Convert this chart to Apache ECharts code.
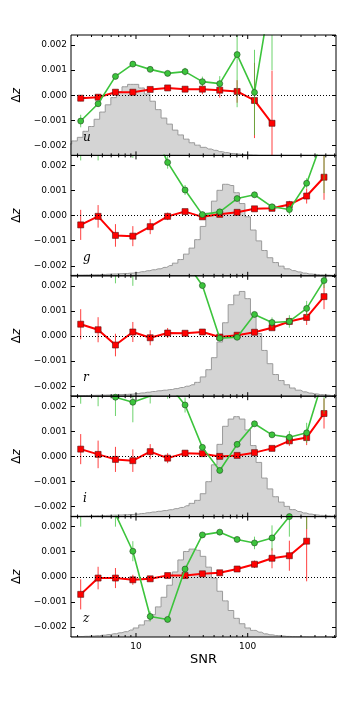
<!DOCTYPE html>
<html>
<head>
<meta charset="utf-8">
<script src="https://cdn.jsdelivr.net/npm/echarts@6/dist/echarts.min.js"></script>
<style>
  html, body { margin: 0; padding: 0; background: #fff; }
  #chart { width: 354px; height: 708px; }
</style>
</head>
<body>
<div id="chart"></div>
<script>
// SNR bin centres of the binned points (shared by all bands)
const snr = [3.2, 4.58, 6.55, 9.37, 13.4, 19.2, 27.5, 39.3, 56.2, 80.4, 115, 165, 236, 337, 482];
const bands = ['u', 'g', 'r', 'i', 'z'];

// red squares + error bars
const redU = [-0.00012, -0.00008, 0.00012, 0.00012, 0.00023, 0.00029, 0.00024, 0.00024, 0.00020, 0.00015, -0.00021, -0.00112];
const redUErr = [0.00012, 0.0001, 0.0001, 0.0001, 0.0001, 0.0001, 0.00012, 0.0002, 0.0003, 0.00045, 0.0015, 0.0021];
const redG = [-0.00037, -0.00003, -0.00079, -0.00082, -0.00044, -0.00003, 0.00016, -0.00005, 0.00005, 0.00013, 0.00027, 0.00029, 0.00044, 0.00078, 0.00153];
const redGErr = [0.0006, 0.00045, 0.00045, 0.0004, 0.0003, 0.00015, 0.0001, 0.00006, 0.00005, 0.00005, 0.00006, 0.00008, 0.00015, 0.0003, 0.0009];
const redR = [0.00047, 0.00025, -0.00036, 0.00016, -0.00007, 0.00012, 0.00011, 0.00016, -0.00004, 0.00003, 0.00015, 0.00033, 0.00058, 0.00074, 0.00157];
const redRErr = [0.0006, 0.0005, 0.00045, 0.0004, 0.0003, 0.0002, 0.0001, 0.0001, 0.00006, 0.00005, 0.00005, 0.00008, 0.00015, 0.0003, 0.0005];
const redI = [0.00029, 0.00008, -0.00012, -0.00017, 0.00019, -0.00007, 0.00013, 0.00011, 0.0, 0.00004, 0.00015, 0.00032, 0.00062, 0.00075, 0.00171];
const redIErr = [0.0006, 0.00055, 0.0005, 0.00045, 0.0003, 0.0002, 0.00012, 0.0001, 0.00006, 0.00005, 0.00005, 0.00008, 0.0002, 0.0003, 0.0006];
const redZ = [-0.0007, -0.00005, -0.00005, -0.00012, -0.00008, 0.00005, 0.00005, 0.00012, 0.00016, 0.00031, 0.0005, 0.00074, 0.00084, 0.00142];
const redZErr = [0.0006, 0.00045, 0.0004, 0.0002, 0.0001, 0.00008, 0.00006, 0.00005, 0.00006, 0.00008, 0.00015, 0.0004, 0.0006, 0.0016];

// green circles + error bars
const greenU = [-0.00103, -0.00034, 0.00075, 0.00124, 0.00103, 0.00087, 0.00094, 0.00054, 0.00046, 0.00162, 0.00011, 0.0043];
const greenUErr = [0.00025, 0.0001, 0.0001, 0.0001, 0.0001, 0.0001, 0.00015, 0.0002, 0.0003, 0.0021, 0.0017, 0.0033];
const greenG = [0.0032, 0.0031, 0.0035, 0.0033, 0.0037, 0.00212, 0.00102, 0.00004, 0.00015, 0.00068, 0.00083, 0.00035, 0.00024, 0.00129, 0.0032];
const greenGErr = [0.001, 0.0009, 0.0005, 0.001, 0.0004, 0.00025, 0.0002, 0.00005, 0.00005, 0.00008, 0.0001, 0.0001, 0.0002, 0.0002, 0.0023];
const greenR = [0.0035, 0.0034, 0.0029, 0.0030, 0.0031, 0.0032, 0.0030, 0.00201, -0.00009, -0.00005, 0.00086, 0.00054, 0.00058, 0.0011, 0.00221];
const greenRErr = [0.0005, 0.0005, 0.0008, 0.001, 0.0007, 0.0003, 0.0003, 0.0001, 0.00005, 0.00005, 0.0001, 0.0002, 0.00025, 0.0003, 0.0003];
const greenI = [0.0029, 0.0027, 0.00236, 0.00216, 0.00241, 0.0029, 0.00205, 0.00036, -0.00056, 0.00048, 0.0013, 0.00086, 0.00076, 0.00094, 0.0032];
const greenIErr = [0.0008, 0.0007, 0.00075, 0.0008, 0.0003, 0.0006, 0.0003, 0.0001, 0.0001, 0.0001, 0.0001, 0.0001, 0.00025, 0.0004, 0.0015];
const greenZ = [0.0030, 0.0035, 0.0025, 0.00102, -0.00158, -0.0017, 0.00031, 0.00167, 0.00178, 0.00149, 0.00135, 0.00155, 0.0024, 0.0031];
const greenZErr = [0.001, 0.0005, 0.0005, 0.0004, 0.0002, 0.0001, 0.0001, 0.0001, 0.0001, 0.0001, 0.00025, 0.0005, 0.0008, 0.0012];

// background SNR histograms (fraction of panel height)
const histSnr = [2.51, 2.82, 3.16, 3.55, 3.98, 4.47, 5.01, 5.62, 6.31, 7.08, 7.94, 8.91, 10, 11.2, 12.6, 14.1, 15.8, 17.8, 20.0, 22.4, 25.1, 28.2, 31.6, 35.5, 39.8, 44.7, 50.1, 56.2, 63.1, 70.8, 79.4, 89.1, 100, 112, 126, 141, 158, 178, 200, 224, 251, 282, 316, 355, 398, 447, 501, 562, 631];
const histU = [0.095, 0.12, 0.15, 0.20, 0.24, 0.30, 0.36, 0.42, 0.48, 0.53, 0.57, 0.59, 0.59, 0.56, 0.51, 0.45, 0.38, 0.31, 0.26, 0.21, 0.17, 0.135, 0.105, 0.085, 0.067, 0.053, 0.042, 0.031, 0.023, 0.016, 0.011, 0.007, 0.004, 0.002, 0, 0, 0, 0, 0, 0, 0, 0, 0, 0, 0, 0, 0, 0, 0];
const histG = [0.004, 0.005, 0.006, 0.007, 0.008, 0.009, 0.011, 0.013, 0.015, 0.017, 0.019, 0.022, 0.027, 0.034, 0.042, 0.050, 0.058, 0.070, 0.085, 0.105, 0.135, 0.18, 0.23, 0.30, 0.41, 0.52, 0.62, 0.71, 0.76, 0.75, 0.69, 0.60, 0.49, 0.38, 0.29, 0.21, 0.15, 0.11, 0.08, 0.058, 0.043, 0.032, 0.022, 0.015, 0.011, 0.008, 0.006, 0.004, 0.003];
const histR = [0.003, 0.004, 0.005, 0.006, 0.007, 0.008, 0.009, 0.010, 0.012, 0.013, 0.015, 0.017, 0.022, 0.027, 0.033, 0.039, 0.045, 0.050, 0.055, 0.063, 0.072, 0.083, 0.095, 0.115, 0.16, 0.22, 0.32, 0.45, 0.61, 0.76, 0.84, 0.87, 0.81, 0.68, 0.52, 0.38, 0.27, 0.18, 0.13, 0.095, 0.068, 0.05, 0.036, 0.026, 0.019, 0.013, 0.009, 0.006, 0.004];
const histI = [0.003, 0.004, 0.005, 0.006, 0.007, 0.008, 0.009, 0.010, 0.012, 0.013, 0.015, 0.017, 0.021, 0.026, 0.032, 0.038, 0.044, 0.050, 0.057, 0.066, 0.076, 0.09, 0.11, 0.135, 0.19, 0.29, 0.43, 0.60, 0.75, 0.81, 0.83, 0.81, 0.72, 0.59, 0.45, 0.32, 0.23, 0.165, 0.12, 0.085, 0.058, 0.042, 0.03, 0.021, 0.014, 0.01, 0.007, 0.005, 0.003];
const histZ = [0.002, 0.003, 0.004, 0.006, 0.008, 0.011, 0.015, 0.020, 0.027, 0.035, 0.044, 0.058, 0.075, 0.10, 0.135, 0.185, 0.25, 0.33, 0.43, 0.54, 0.64, 0.71, 0.73, 0.72, 0.67, 0.58, 0.49, 0.38, 0.30, 0.22, 0.155, 0.11, 0.075, 0.055, 0.04, 0.026, 0.018, 0.012, 0.008, 0.005, 0.003, 0.002, 0.001, 0, 0, 0, 0, 0, 0];

// x tick positions (major = decades)
const xMajorTicks = [10, 100];
const xMinorTicks = [3, 4, 5, 6, 7, 8, 9, 20, 30, 40, 50, 60, 70, 80, 90, 200, 300, 400, 500, 600];

const panels = [
    { red: redU, redErr: redUErr, green: greenU, greenErr: greenUErr, hist: histU },
    { red: redG, redErr: redGErr, green: greenG, greenErr: greenGErr, hist: histG },
    { red: redR, redErr: redRErr, green: greenR, greenErr: greenRErr, hist: histR },
    { red: redI, redErr: redIErr, green: greenI, greenErr: greenIErr, hist: histI },
    { red: redZ, redErr: redZErr, green: greenZ, greenErr: greenZErr, hist: histZ }
];

const FONT = 'DejaVu Sans';
const RED = '#ff0000';
const GREEN = '#3cc43c';
const top0 = 35;
const ph = 120.4;
const yMin = -0.0024, yMax = 0.0024;

function fmtY(v) {
    if (Math.abs(Math.abs(v) - 0.0024) < 1e-9) return '';
    const s = Math.abs(v).toFixed(3);
    return v < -1e-9 ? '\u2212' + s : s;
}

function errRender(color) {
    return function (params, api) {
        const x = api.value(0), y = api.value(1), e = api.value(2);
        const p1 = api.coord([x, y - e]);
        const p2 = api.coord([x, y + e]);
        const cs = params.coordSys;
        const t = cs.y, b = cs.y + cs.height;
        const y1 = Math.min(Math.max(p1[1], t), b);
        const y2 = Math.min(Math.max(p2[1], t), b);
        if (Math.abs(y1 - y2) < 0.01) return null;
        return {
            type: 'line',
            shape: { x1: p1[0], y1: y1, x2: p1[0], y2: y2 },
            style: { stroke: color, lineWidth: 1, opacity: 0.75 }
        };
    };
}

function tickRender(params, api) {
    const x = api.coord([api.value(0), 0])[0];
    const len = api.value(2) ? 4 : 2;
    const cs = params.coordSys;
    const t = cs.y, b = cs.y + cs.height;
    return {
        type: 'group',
        children: [
            { type: 'line', shape: { x1: x, y1: b, x2: x, y2: b - len }, style: { stroke: '#000', lineWidth: 1 } },
            { type: 'line', shape: { x1: x, y1: t, x2: x, y2: t + len }, style: { stroke: '#000', lineWidth: 1 } }
        ]
    };
}

const grid = [], xAxis = [], yAxis = [], series = [], graphic = [];
const tickData = xMajorTicks.map(v => [v, 0, 1]).concat(xMinorTicks.map(v => [v, 0, 0]));

panels.forEach((p, i) => {
    const top = top0 + i * ph;
    grid.push({ left: 71, width: 265, top: top, height: ph, show: true, borderColor: '#000', borderWidth: 1, backgroundColor: 'transparent', z: 10 });
    xAxis.push({
        type: 'log', logBase: 10, gridIndex: i, min: 2.62, max: 617,
        axisLine: { show: false }, axisTick: { show: false }, splitLine: { show: false },
        axisLabel: {
            show: i === panels.length - 1, fontFamily: FONT, fontSize: 9, color: '#000', margin: 5,
            showMinLabel: false, showMaxLabel: false,
            formatter: v => {
                const l = Math.log10(v);
                return Math.abs(l - Math.round(l)) < 1e-6 && Math.round(l) >= 1 ? String(Math.round(v)) : '';
            }
        },
        name: i === panels.length - 1 ? 'SNR' : '',
        nameLocation: 'middle', nameGap: 16,
        nameTextStyle: { fontFamily: FONT, fontSize: 13, color: '#000' }
    });
    yAxis.push({
        type: 'value', gridIndex: i, min: yMin, max: yMax, splitNumber: 5,
        axisLine: { show: false }, splitLine: { show: false },
        axisTick: { show: true, inside: true, length: 4, lineStyle: { color: '#000', width: 1 } },
        axisLabel: { fontFamily: FONT, fontSize: 9, color: '#000', margin: 4, formatter: fmtY, showMinLabel: false, showMaxLabel: false },
        name: '{d|\u0394}{z|z}', nameLocation: 'middle', nameRotate: 90, nameGap: 40,
        nameTextStyle: {
            rich: {
                d: { fontFamily: FONT, fontSize: 12, color: '#000' },
                z: { fontFamily: FONT, fontSize: 12, fontStyle: 'italic', color: '#000' }
            }
        }
    });
    yAxis.push({
        type: 'value', gridIndex: i, min: yMin, max: yMax, splitNumber: 5, position: 'right',
        axisLine: { show: false }, splitLine: { show: false }, axisLabel: { show: false },
        axisTick: { show: true, inside: true, length: 4, lineStyle: { color: '#000', width: 1 } }
    });
    yAxis.push({ type: 'value', gridIndex: i, min: 0, max: 1, show: false });

    const yL = 3 * i, yH = 3 * i + 2;
    series.push({
        type: 'line', xAxisIndex: i, yAxisIndex: yH, step: 'middle', symbol: 'none', silent: true, z: 1,
        data: histSnr.map((s, j) => [s, p.hist[j]]),
        lineStyle: { color: '#9a9a9a', width: 1 },
        areaStyle: { color: '#d4d4d4', opacity: 1 }
    });
    series.push({
        type: 'custom', xAxisIndex: i, yAxisIndex: yL, z: 2, silent: true,
        renderItem: errRender(RED), encode: { x: 0, y: 1 },
        data: p.red.map((v, j) => [snr[j], v, p.redErr[j]])
    });
    series.push({
        type: 'line', xAxisIndex: i, yAxisIndex: yL, z: 3, silent: true,
        data: p.red.map((v, j) => [snr[j], v]),
        symbol: 'rect', symbolSize: 6,
        lineStyle: { color: RED, width: 2 },
        itemStyle: { color: RED, borderColor: '#5a1010', borderWidth: 0.6 },
        markLine: {
            silent: true, symbol: ['none', 'none'], label: { show: false },
            lineStyle: { color: '#000', width: 1, type: [1, 2] },
            data: [{ yAxis: 0 }]
        }
    });
    series.push({
        type: 'custom', xAxisIndex: i, yAxisIndex: yL, z: 4, silent: true,
        renderItem: errRender(GREEN), encode: { x: 0, y: 1 },
        data: p.green.map((v, j) => [snr[j], v, p.greenErr[j]])
    });
    series.push({
        type: 'line', xAxisIndex: i, yAxisIndex: yL, z: 5, silent: true,
        data: p.green.map((v, j) => [snr[j], v]),
        symbol: 'circle', symbolSize: 6,
        lineStyle: { color: GREEN, width: 1.6 },
        itemStyle: { color: GREEN, borderColor: '#1e4a1e', borderWidth: 0.6 }
    });
    series.push({
        type: 'custom', xAxisIndex: i, yAxisIndex: yL, z: 6, silent: true,
        renderItem: tickRender, encode: { x: 0, y: 1 },
        data: tickData
    });

    graphic.push({
        type: 'text', left: 83, top: top + ph - 24, z: 20,
        style: { text: bands[i], fontFamily: 'DejaVu Serif', fontStyle: 'italic', fontSize: 12, fill: '#000' }
    });
});

const chart = echarts.init(document.getElementById('chart'), null, { renderer: 'canvas' });
chart.setOption({
    animation: false,
    backgroundColor: '#fff',
    grid: grid,
    xAxis: xAxis,
    yAxis: yAxis,
    series: series,
    graphic: graphic
});
</script>
</body>
</html>
